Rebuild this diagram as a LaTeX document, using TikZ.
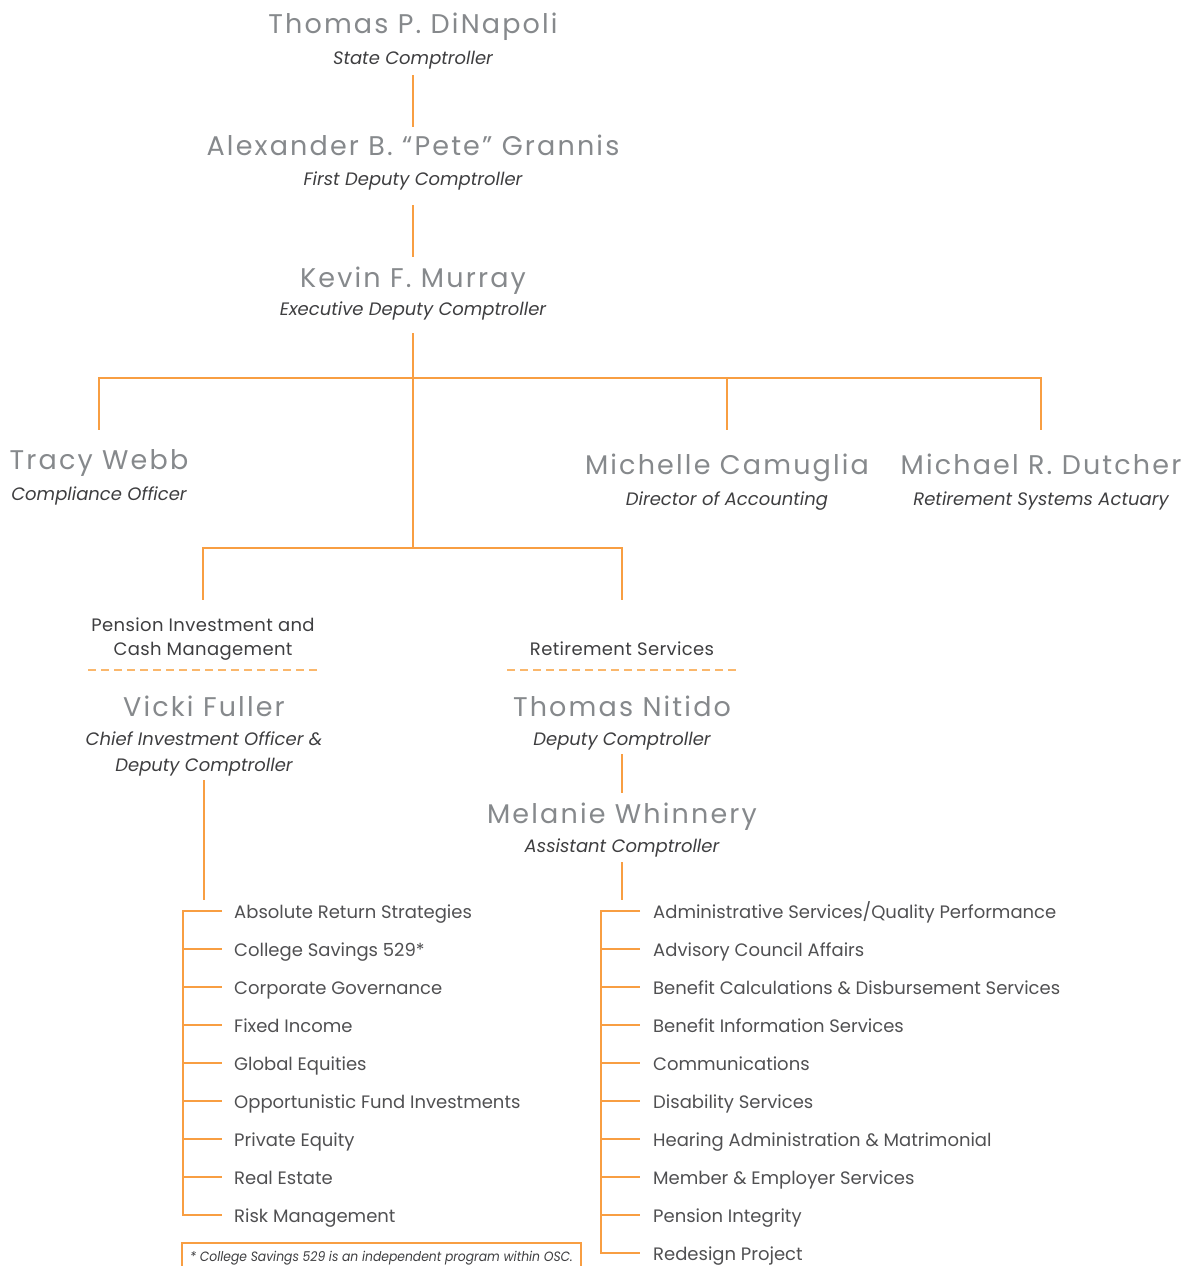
\documentclass[tikz,border=0pt]{standalone}
\usepackage{fontspec}
\setmainfont{Poppins}
\newfontfamily\namefont[LetterSpace=8]{Poppins}
\newfontfamily\headfont[LetterSpace=2]{Poppins}
\newfontfamily\itemfont{Poppins}
\newfontfamily\footfont[FakeStretch=0.915]{Poppins}
\usetikzlibrary{calc}
\definecolor{orng}{RGB}{248,158,66}
\definecolor{dashorng}{RGB}{250,183,108}
\definecolor{namegray}{RGB}{134,137,140}
\definecolor{ttlgray}{RGB}{62,62,64}
\definecolor{itemgray}{RGB}{80,80,82}
\tikzset{
  pname/.style={anchor=base, inner sep=0pt, text=namegray, font=\namefont\fontsize{27}{30}\selectfont},
  ptitle/.style={anchor=base, inner sep=0pt, text=ttlgray, font=\itemfont\itshape\fontsize{18}{22}\selectfont},
  head/.style={anchor=base, inner sep=0pt, text=ttlgray, font=\headfont\fontsize{18}{22}\selectfont},
  item/.style={anchor=base west, inner sep=0pt, text=itemgray, font=\itemfont\fontsize{18}{22}\selectfont},
  foot/.style={anchor=base west, inner sep=0pt, text=ttlgray, font=\footfont\itshape\fontsize{13.5}{16}\selectfont},
  link/.style={draw=orng, line width=2pt},
  dashline/.style={draw=dashorng, line width=1.6pt, dash pattern=on 8pt off 5pt},
  boxline/.style={draw=orng, line width=1.2pt}
}
\begin{document}
\begin{tikzpicture}[x=1pt,y=-1pt]
\useasboundingbox (0,0) rectangle (1184,1266);
% --- top chain
\node[pname] (dinapoli) at (413,33) {Thomas P. DiNapoli};
\node[ptitle] (dinapoliT) at (413,64) {State Comptroller};
\node[pname] (grannis) at (413,155) {Alexander B. “Pete” Grannis};
\node[ptitle] (grannisT) at (413,185) {First Deputy Comptroller};
\node[pname] (murray) at (413,287) {Kevin F. Murray};
\node[ptitle] (murrayT) at (413,315) {Executive Deputy Comptroller};
\draw[link, shorten <=11pt, shorten >=28pt] (dinapoliT.base) -- (grannis.base);
\draw[link, shorten <=20pt, shorten >=30pt] (grannisT.base) -- (murray.base);
% --- second row
\node[pname] (webb) at (99,469) {Tracy Webb};
\node[ptitle] (webbT) at (99,500) {Compliance Officer};
\node[pname] (camuglia) at (727,474) {Michelle Camuglia};
\node[ptitle] (camugliaT) at (727,505) {Director of Accounting};
\node[pname] (dutcher) at (1041,474) {Michael R. Dutcher};
\node[ptitle] (dutcherT) at (1041,505) {Retirement Systems Actuary};
\coordinate (j1) at (413,378);
\coordinate (j2) at (413,548);
\draw[link, shorten <=18pt] (murrayT.base) -- (j2);
\draw[link, shorten >=39pt] (j1) -| (webb.base);
\draw[link, shorten >=44pt] (j1) -| (camuglia.base);
\draw[link, shorten >=44pt] (j1) -| (dutcher.base);
% --- divisions
\node[head] (pension1) at (203,631) {Pension Investment and};
\node[head] (pension2) at (203,655) {Cash Management};
\node[head] (retire) at (622,655) {Retirement Services};
\draw[link, shorten >=31pt] (j2) -| (pension1.base);
\draw[link, shorten >=55pt] (j2) -| (retire.base);
\draw[dashline] (88,670) -- (318,670);
\draw[dashline] (507,670) -- (737,670);
% --- left column
\node[pname] (fuller) at (204,716) {Vicki Fuller};
\node[ptitle] (fullerT1) at (204,745) {Chief Investment Officer \&};
\node[ptitle] (fullerT2) at (204,771) {Deputy Comptroller};
\coordinate (lb) at (204,900);
\draw[link, shorten <=9pt] (fullerT2.base) -- (lb);
\foreach \t [count=\i] in {Absolute Return Strategies, College Savings 529*, Corporate Governance, Fixed Income, Global Equities, Opportunistic Fund Investments, Private Equity, Real Estate, Risk Management}{
  \node[item] (a\i) at (234,{918+38*(\i-1)}) {\t};
}
\draw[link] ($(a1.base west)+(-12,-7)$) -- ($(a1.base west)+(-51,-7)$) -- ($(a9.base west)+(-51,-7)$) -- ($(a9.base west)+(-12,-7)$);
\foreach \i in {2,...,8}{
  \draw[link] ($(a\i.base west)+(-51,-7)$) -- ($(a\i.base west)+(-12,-7)$);
}
% --- right column
\node[pname] (nitido) at (622,716) {Thomas Nitido};
\node[ptitle] (nitidoT) at (622,745) {Deputy Comptroller};
\node[pname] (whinnery) at (622,823) {Melanie Whinnery};
\node[ptitle] (whinneryT) at (622,852) {Assistant Comptroller};
\draw[link, shorten <=9pt, shorten >=30pt] (nitidoT.base) -- (whinnery.base);
\coordinate (rb) at (622,900);
\draw[link, shorten <=10pt] (whinneryT.base) -- (rb);
\foreach \t [count=\i] in {Administrative Services/Quality Performance, Advisory Council Affairs, Benefit Calculations \& Disbursement Services, Benefit Information Services, Communications, Disability Services, Hearing Administration \& Matrimonial, Member \& Employer Services, Pension Integrity, Redesign Project}{
  \node[item] (b\i) at (653,{918+38*(\i-1)}) {\t};
}
\draw[link] ($(b1.base west)+(-13,-7)$) -- ($(b1.base west)+(-52,-7)$) -- ($(b10.base west)+(-52,-7)$) -- ($(b10.base west)+(-13,-7)$);
\foreach \i in {2,...,9}{
  \draw[link] ($(b\i.base west)+(-52,-7)$) -- ($(b\i.base west)+(-13,-7)$);
}
% --- footnote
\node[foot] (fn) at (190,1261) {* College Savings 529 is an independent program within OSC.};
\draw[boxline] (182,1270) -- (182,1243) -- (581,1243) -- (581,1270);
\end{tikzpicture}
\end{document}
